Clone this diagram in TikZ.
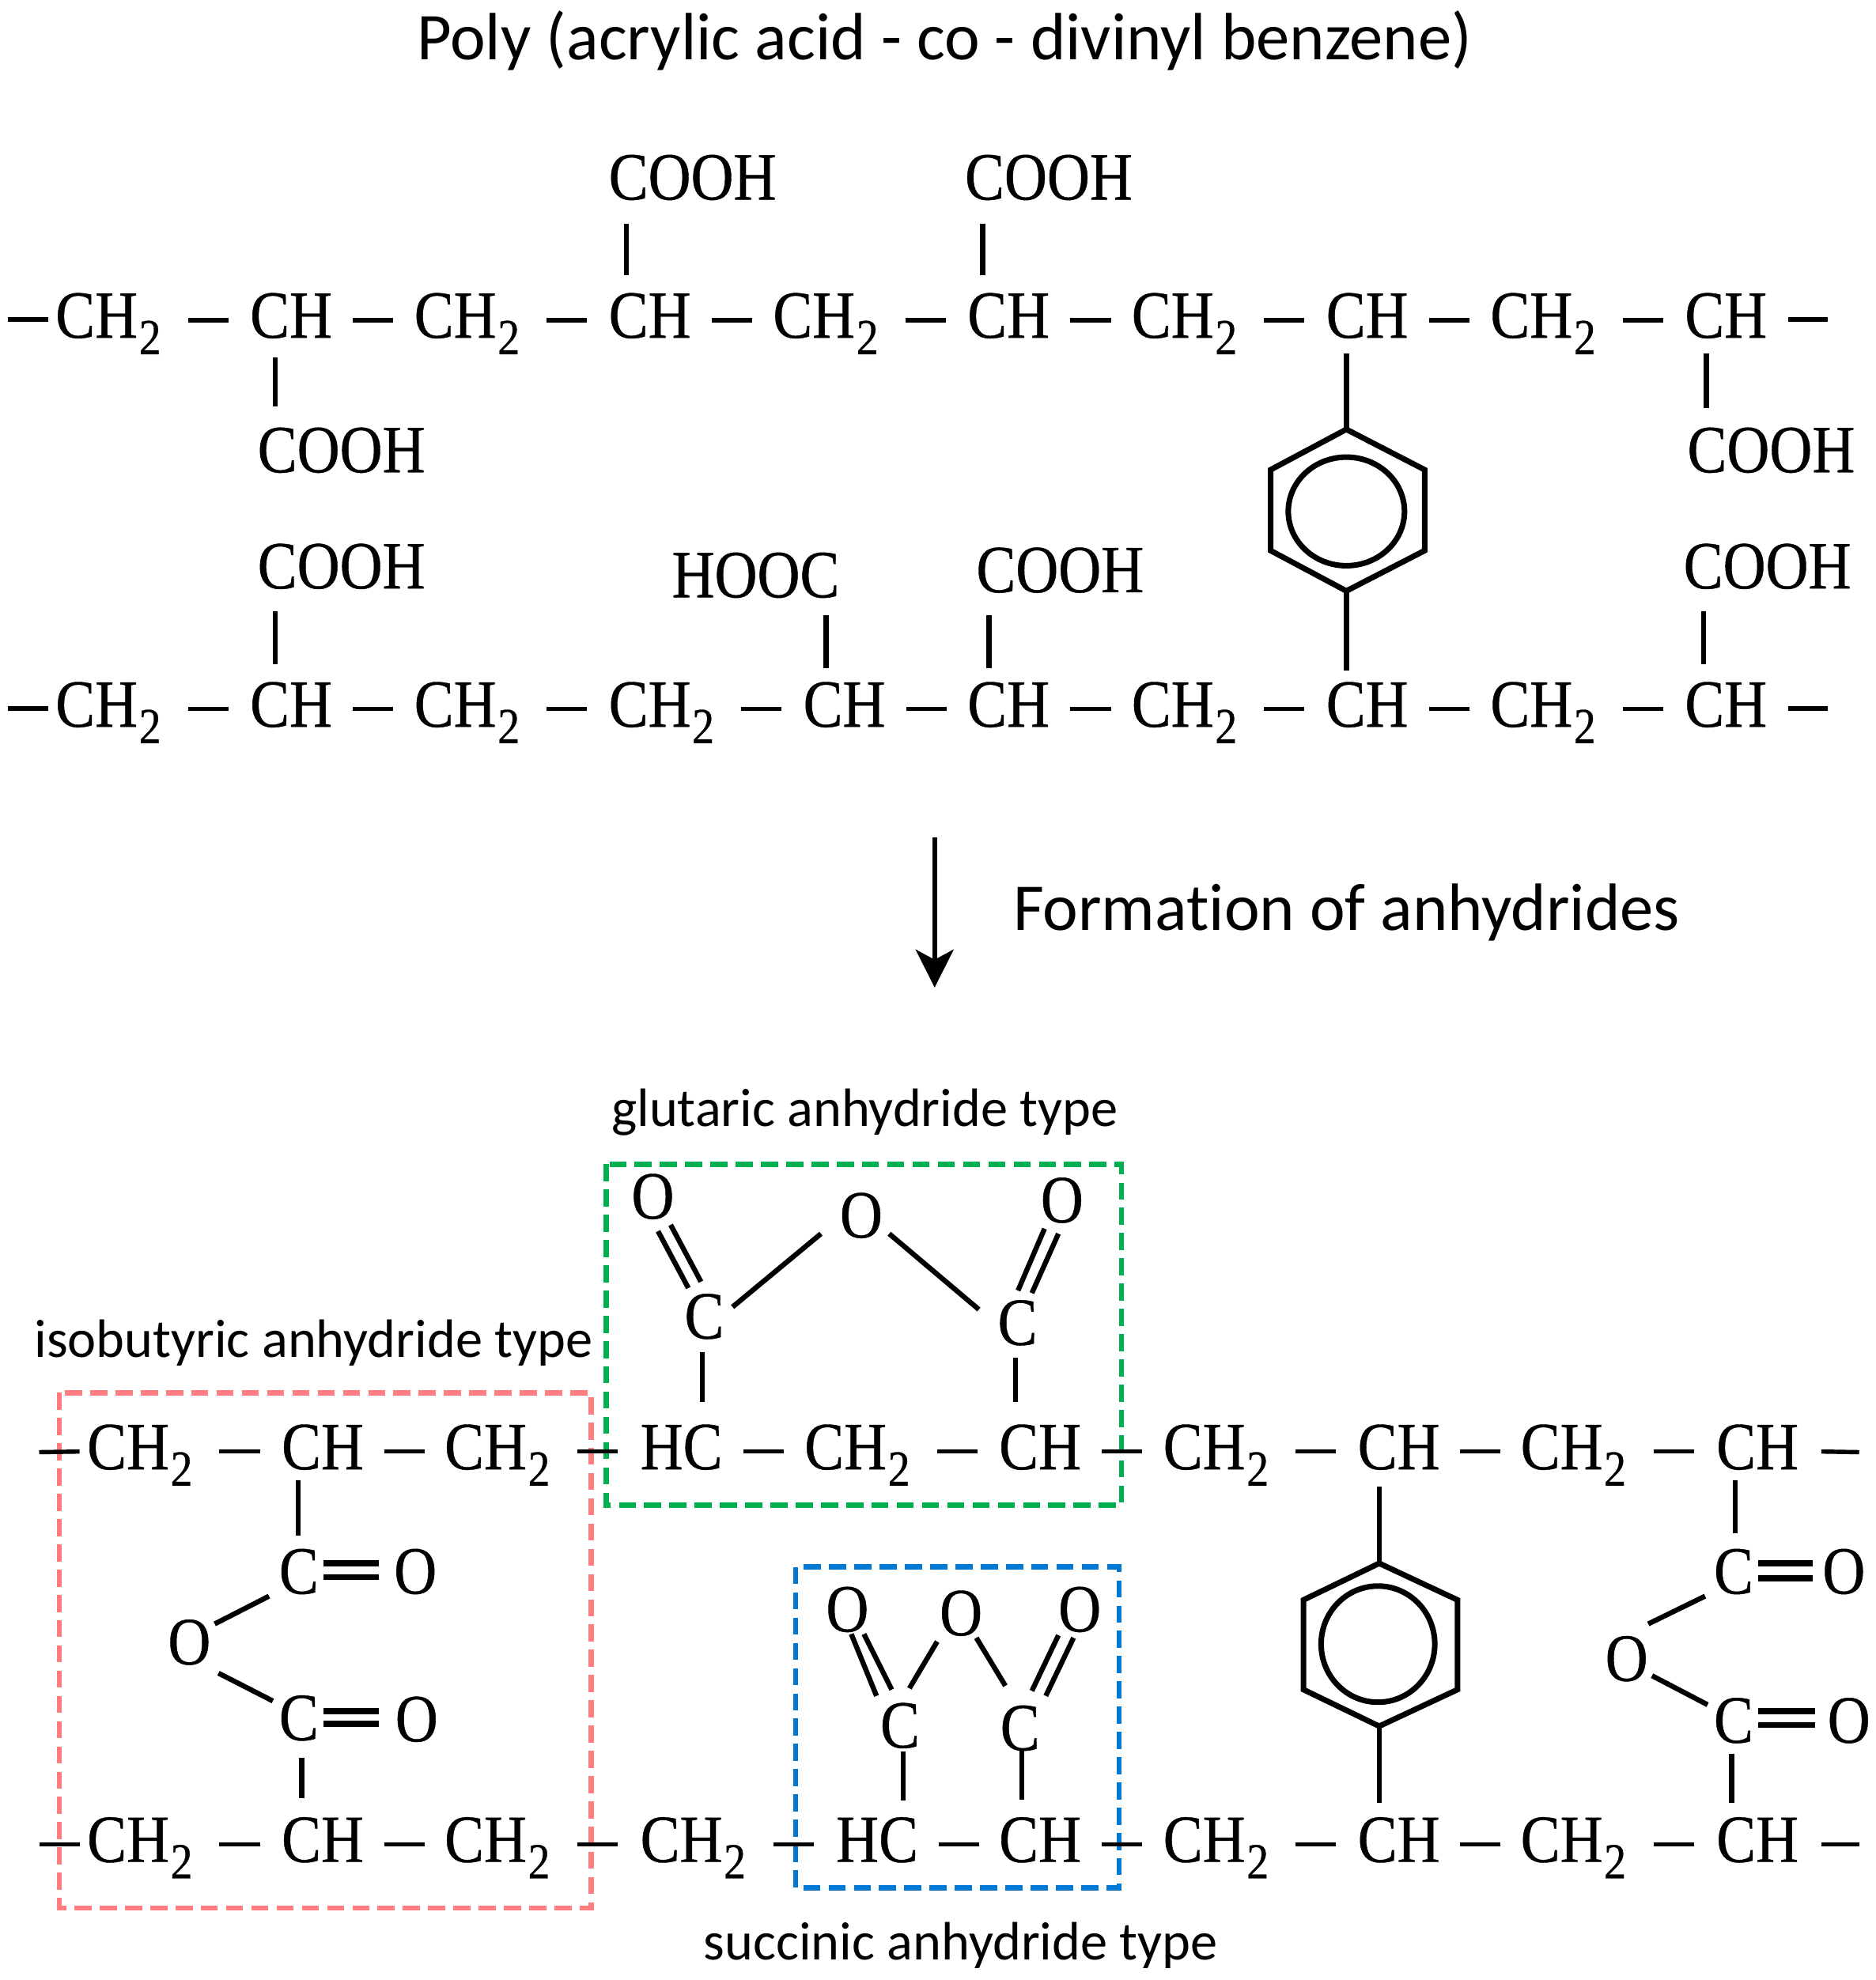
\documentclass[tikz,border=0pt]{standalone}
\usepackage{fontspec}
\setmainfont{Liberation Serif}[FakeStretch=0.875,FakeBold=0.5]
\newfontfamily\labfont{Carlito}[Ligatures=NoCommon]
\usetikzlibrary{calc,arrows.meta}
\newcommand\subtwo{\kern1pt\raisebox{-13pt}{\fontsize{40}{40}\selectfont 2}\kern4pt}
\newcommand\bd[4]{\draw[bond] ($(#1.base west)+(#2)$) -- ($(#3.base west)+(#4)$);}
\newcommand\dbd[4]{\draw[bond,line width=4.8pt] ($(#1.base west)+(#2)$) -- ($(#3.base west)+(#4)$);}
\newcommand\hb[2]{\draw[bond,line width=3.4pt] ($($(#1.base east)!0.5!(#2.base west)$)+(-16,-14)$) -- ($($(#1.base east)!0.5!(#2.base west)$)+(16,-14)$);}
\tikzset{
  chem/.style={anchor=base west,inner sep=0pt,outer sep=0pt,font=\fontsize{53.5}{53.5}\selectfont},
  bond/.style={line width=4pt,black},
  ringline/.style={line width=4.4pt,black,line join=miter},
  frame/.style={line width=4.2pt,dash pattern=on 13.5pt off 6.5pt},
  bigtext/.style={anchor=base west,inner sep=0pt,font=\labfont\fontsize{53}{53}\selectfont},
  smalltext/.style={anchor=base west,inner sep=0pt,font=\labfont\fontsize{42.8}{42.8}\selectfont},
}
\definecolor{fred}{HTML}{FF7C80}
\definecolor{fgreen}{HTML}{00B050}
\definecolor{fblue}{HTML}{0078D4}
\begin{document}
\begin{tikzpicture}[x=1pt,y=-1pt]
\useasboundingbox (0,0) rectangle (1485,1568);
% frames
\coordinate (fr1) at (47,1103); \coordinate (fr2) at (468,1511);
\coordinate (fg1) at (480,922); \coordinate (fg2) at (888,1192);
\coordinate (fb1) at (630,1241); \coordinate (fb2) at (886,1495);
\draw[frame,fred] (fr1) rectangle (fr2);
\draw[frame,fgreen] (fg1) rectangle (fg2);
\draw[frame,fblue] (fb1) rectangle (fb2);
% texts
\node[bigtext] (title) at (330,47) {Poly (acrylic acid - co - divinyl benzene)};
\node[bigtext] (form) at (802,737) {Formation of anhydrides};
\node[smalltext] (glu) at (484,892) {glutaric anhydride type};
\node[smalltext] (iso) at (27,1075) {isobutyric anhydride type};
\node[smalltext] (suc) at (557,1552) {succinic anhydride type};
% row 1
\node[chem] (r1a) at (44,267.5) {CH\subtwo};
\node[chem] (r1b) at (198,267.5) {CH};
\node[chem] (r1c) at (328,267.5) {CH\subtwo};
\node[chem] (r1d) at (482,267.5) {CH};
\node[chem] (r1e) at (612,267.5) {CH\subtwo};
\node[chem] (r1f) at (766,267.5) {CH};
\node[chem] (r1g) at (896,267.5) {CH\subtwo};
\node[chem] (r1h) at (1050,267.5) {CH};
\node[chem] (r1i) at (1180,267.5) {CH\subtwo};
\node[chem] (r1j) at (1334,267.5) {CH};
% row 2
\node[chem] (r2a) at (44,575.5) {CH\subtwo};
\node[chem] (r2b) at (198,575.5) {CH};
\node[chem] (r2c) at (328,575.5) {CH\subtwo};
\node[chem] (r2d) at (482,575.5) {CH\subtwo};
\node[chem] (r2e) at (636,575.5) {CH};
\node[chem] (r2f) at (766,575.5) {CH};
\node[chem] (r2g) at (896,575.5) {CH\subtwo};
\node[chem] (r2h) at (1050,575.5) {CH};
\node[chem] (r2i) at (1180,575.5) {CH\subtwo};
\node[chem] (r2j) at (1334,575.5) {CH};
% side groups
\node[chem] (ca) at (482,158) {COOH};
\node[chem] (cb) at (764,158) {COOH};
\node[chem] (cc) at (204,374) {COOH};
\node[chem] (cd) at (1336,374) {COOH};
\node[chem] (ce) at (204,466) {COOH};
\node[chem] (cf) at (532,473) {HOOC};
\node[chem] (cg) at (773,469) {COOH};
\node[chem] (ch) at (1333,466) {COOH};
% row 3
\node[chem] (r3a) at (69,1163.5) {CH\subtwo};
\node[chem] (r3b) at (223,1163.5) {CH};
\node[chem] (r3c) at (352,1163.5) {CH\subtwo};
\node[chem] (r3d) at (507,1163.5) {HC};
\node[chem] (r3e) at (637,1163.5) {CH\subtwo};
\node[chem] (r3f) at (791,1163.5) {CH};
\node[chem] (r3g) at (921,1163.5) {CH\subtwo};
\node[chem] (r3h) at (1075,1163.5) {CH};
\node[chem] (r3i) at (1204,1163.5) {CH\subtwo};
\node[chem] (r3j) at (1359,1163.5) {CH};
% row 4
\node[chem] (r4a) at (69,1474.5) {CH\subtwo};
\node[chem] (r4b) at (223,1474.5) {CH};
\node[chem] (r4c) at (352,1474.5) {CH\subtwo};
\node[chem] (r4d) at (507,1474.5) {CH\subtwo};
\node[chem] (r4e) at (662,1474.5) {HC};
\node[chem] (r4f) at (791,1474.5) {CH};
\node[chem] (r4g) at (921,1474.5) {CH\subtwo};
\node[chem] (r4h) at (1075,1474.5) {CH};
\node[chem] (r4i) at (1204,1474.5) {CH\subtwo};
\node[chem] (r4j) at (1359,1474.5) {CH};
% glutaric atoms
\node[chem] (gO1) at (500,965) {O};
\node[chem] (gO2) at (665,980) {O};
\node[chem] (gO3) at (824,968) {O};
\node[chem] (gC1) at (542,1060) {C};
\node[chem] (gC2) at (790,1065) {C};
% isobutyric atoms
\node[chem] (iC1) at (221,1262) {C};
\node[chem] (iO1) at (312,1262) {O};
\node[chem] (iO) at (133,1318) {O};
\node[chem] (iC2) at (221,1378) {C};
\node[chem] (iO2) at (313,1379) {O};
% right anhydride atoms
\node[chem] (jC1) at (1357,1262) {C};
\node[chem] (jO1) at (1443,1262) {O};
\node[chem] (jO) at (1271,1331) {O};
\node[chem] (jC2) at (1357,1380) {C};
\node[chem] (jO2) at (1447,1380) {O};
% succinic atoms
\node[chem] (bO1) at (654,1292) {O};
\node[chem] (bO2) at (744,1295) {O};
\node[chem] (bO3) at (838,1292) {O};
\node[chem] (bC1) at (697,1384) {C};
\node[chem] (bC2) at (792,1386) {C};
% chain ends
\foreach \n/\y in {1/253,2/561}{
  \coordinate (s\n) at (6,\y);
  \draw[bond,line width=3.4pt] (s\n) -- ($(r\n a.base west)+(-6,-14.5)$);
  \coordinate (e\n) at (1447,\y);
  \draw[bond,line width=3.4pt] ($(r\n j.base east)+(17,-14.5)$) -- (e\n);
}
\foreach \n/\y in {3/1150,4/1460.5}{
  \coordinate (s\n) at (31,\y);
  \draw[bond,line width=3.4pt] (s\n) -- ($(r\n a.base west)+(-6,-14)$);
  \coordinate (e\n) at (1472,\y);
  \draw[bond,line width=3.4pt] ($(r\n j.base east)+(18,-14)$) -- (e\n);
}
% chain bonds
\foreach \n in {1,2,3,4}{
  \hb{r\n a}{r\n b}\hb{r\n b}{r\n c}\hb{r\n c}{r\n d}\hb{r\n d}{r\n e}\hb{r\n e}{r\n f}
  \hb{r\n f}{r\n g}\hb{r\n g}{r\n h}\hb{r\n h}{r\n i}\hb{r\n i}{r\n j}
}
% upper side bonds
\bd{ca}{14,19}{r1d}{14,-49.5}
\bd{cb}{14,19}{r1f}{12,-49.5}
\bd{r1b}{20,15.5}{cc}{14,-52}
\bd{r1j}{17,12.5}{cd}{15,-51}
\bd{ce}{14,18}{r2b}{20,-49.5}
\bd{cf}{122,14}{r2e}{18,-46.5}
\bd{cg}{10,18}{r2f}{17,-46.5}
\bd{ch}{16,18}{r2j}{15,-49.5}
% upper ring
\coordinate (ra1) at (1066,340); \coordinate (ra2) at (1128,372); \coordinate (ra3) at (1128,436);
\coordinate (ra4) at (1066,468); \coordinate (ra5) at (1006,436); \coordinate (ra6) at (1006,372);
\coordinate (rac) at (1066,405);
\draw[ringline] (ra1) -- (ra2) -- (ra3) -- (ra4) -- (ra5) -- (ra6) -- cycle;
\draw[ringline] (rac) ellipse [x radius=46,y radius=43];
\draw[bond] ($(r1h.base west)+(16,12.5)$) -- (ra1);
\draw[bond] (ra4) -- ($(r2h.base west)+(16,-44.5)$);
% lower ring
\coordinate (rb1) at (1092,1238); \coordinate (rb2) at (1154,1267); \coordinate (rb3) at (1154,1338);
\coordinate (rb4) at (1092,1367); \coordinate (rb5) at (1032,1338); \coordinate (rb6) at (1032,1267);
\coordinate (rbc) at (1091,1302);
\draw[ringline] (rb1) -- (rb2) -- (rb3) -- (rb4) -- (rb5) -- (rb6) -- cycle;
\draw[ringline] (rbc) ellipse [x radius=45,y radius=46];
\draw[bond] ($(r3h.base west)+(17,13.5)$) -- (rb1);
\draw[bond] (rb4) -- ($(r4h.base west)+(17,-46.5)$);
% arrow
\coordinate (aS) at (740,663); \coordinate (aE) at (740,782);
\draw[line width=4pt,-{Stealth[length=30pt,width=30pt,inset=8pt]}] (aS) -- (aE);
% glutaric bonds
\bd{gC1}{38,-25}{gO2}{-15,-3}
\bd{gO2}{39,-3}{gC2}{-15,-28}
\bd{gO1}{21,10}{gC1}{3,-40}
\bd{gO1}{31,5}{gC1}{13,-45}
\bd{gO3}{3,5}{gC2}{16,-43}
\bd{gO3}{14,9}{gC2}{27,-41}
\bd{gC1}{14,11}{r3d}{49,-53.5}
\bd{gC2}{14,10}{r3f}{13,-53.5}
% isobutyric bonds
\bd{r3b}{13,8.5}{iC1}{15,-46}
\dbd{iC1}{35,-24}{iO1}{-12,-24}
\dbd{iC1}{35,-13}{iO1}{-12,-13}
\bd{iO}{37,-32}{iC1}{-8,2}
\bd{iO}{40,7}{iC2}{-5,-31}
\dbd{iC2}{35,-23}{iO2}{-13,-24}
\dbd{iC2}{35,-13}{iO2}{-13,-14}
\bd{iC2}{18,14}{r4b}{16,-50.5}
% right anhydride bonds
\bd{r3j}{15,8.5}{jC1}{17,-48}
\dbd{jC1}{35,-24}{jO1}{-8,-24}
\dbd{jC1}{35,-12}{jO1}{-8,-12}
\bd{jO}{34,-45}{jC1}{-7,2}
\bd{jO}{37,-4}{jC2}{-5,-30}
\dbd{jC2}{35,-25}{jO2}{-10,-25}
\dbd{jC2}{35,-14}{jO2}{-10,-14}
\bd{jC2}{14,9}{r4j}{12,-46.5}
% succinic bonds
\bd{bO1}{20,2}{bC1}{-3,-41}
\bd{bO1}{30,2}{bC1}{9,-46}
\bd{bC1}{23,-47}{bO2}{-2,5}
\bd{bO2}{29,2}{bC2}{4,-51}
\bd{bC2}{25,-47}{bO3}{0,3}
\bd{bC2}{36,-43}{bO3}{12,5}
\bd{bC1}{18,3}{r4e}{53,-48.5}
\bd{bC2}{17,0}{r4f}{18,-49.5}
\end{tikzpicture}
\end{document}
